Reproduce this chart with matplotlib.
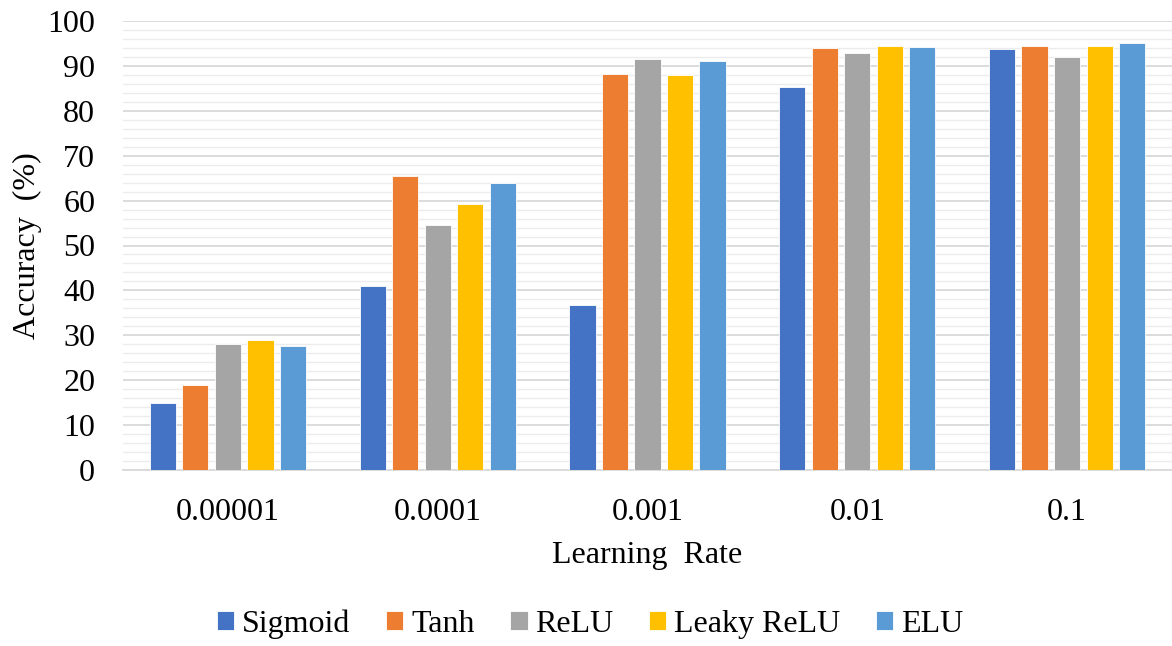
import numpy as np
import matplotlib.pyplot as plt
from matplotlib.ticker import MultipleLocator

plt.rcParams['font.family'] = ['Liberation Serif', 'DejaVu Serif']

# learning rates and accuracy (%) for each activation function
rates = ['0.00001', '0.0001', '0.001', '0.01', '0.1']
sigmoid = [14.9, 41.0, 36.8, 85.4, 93.7]
tanh = [18.9, 65.5, 88.2, 94.0, 94.5]
relu = [28.0, 54.6, 91.5, 92.8, 92.0]
leaky_relu = [29.0, 59.2, 88.0, 94.5, 94.5]
elu = [27.6, 63.9, 91.2, 94.3, 95.0]

names = ['Sigmoid', 'Tanh', 'ReLU', 'Leaky ReLU', 'ELU']
colors = ['#4472C4', '#ED7D31', '#A5A5A5', '#FFC000', '#5B9BD5']
series = [sigmoid, tanh, relu, leaky_relu, elu]

fs = 23

fig = plt.figure(figsize=(11.72, 6.46), dpi=100)
ax = fig.add_axes([123 / 1172, 1 - 470 / 646, 1049 / 1172, 449 / 646])

x = np.arange(len(rates))
step = 0.155
width = 0.125
for i, (name, vals, c) in enumerate(zip(names, series, colors)):
    ax.bar(x + (i - 2) * step, vals, width, color=c, label=name,
           edgecolor='white', linewidth=0.6, zorder=3)

ax.set_xlim(-0.5, len(rates) - 0.5)
ax.set_ylim(0, 100)
ax.yaxis.set_major_locator(MultipleLocator(10))
ax.yaxis.set_minor_locator(MultipleLocator(2))
ax.grid(axis='y', which='major', color='#d9d9d9', linewidth=1.3, zorder=0)
ax.grid(axis='y', which='minor', color='#ececec', linewidth=1.0, zorder=0)
ax.set_xticks(x)
ax.set_xticklabels(rates)
ax.tick_params(axis='both', which='both', length=0, labelsize=fs)
ax.tick_params(axis='y', pad=20)
ax.tick_params(axis='x', pad=20)
for s in ['top', 'right', 'left']:
    ax.spines[s].set_visible(False)
ax.spines['bottom'].set_color('#d9d9d9')
ax.spines['bottom'].set_linewidth(1.3)

ax.set_xlabel('Learning  Rate', fontsize=fs, labelpad=10)
ax.set_ylabel('Accuracy  (%)', fontsize=fs, labelpad=4)

fig.legend(loc='center', bbox_to_anchor=(590 / 1172, 1 - 624 / 646), ncol=5,
           frameon=False, fontsize=fs, handlelength=0.55, handleheight=0.55,
           handletextpad=0.25, columnspacing=1.1)

fig.savefig('out.png', dpi=100)
